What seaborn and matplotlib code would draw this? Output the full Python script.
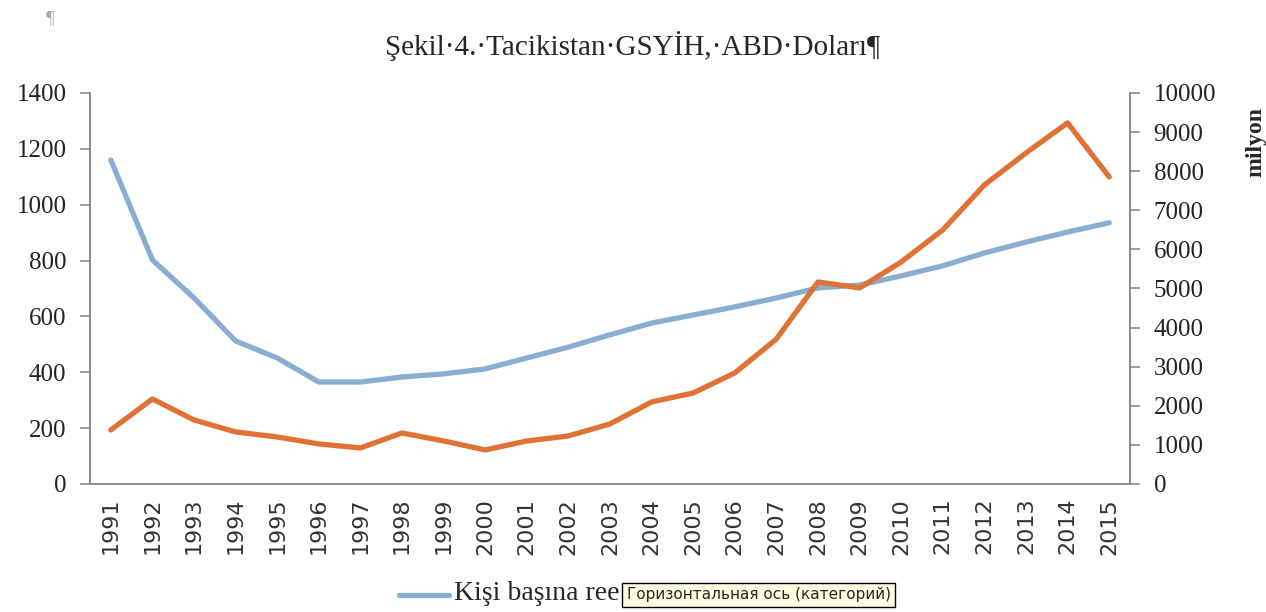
import matplotlib
matplotlib.use("Agg")
import matplotlib.pyplot as plt
import numpy as np
import pandas as pd
import seaborn as sns

# values
years = list(range(1991, 2016))
per_capita = [1160, 802, 666, 512, 451, 365, 365, 383, 394, 412, 451, 490, 534,
              576, 605, 634, 666, 702, 712, 745, 781, 827, 866, 902, 935]
gdp_million = [1381, 2174, 1637, 1330, 1202, 1023, 921, 1304, 1100, 870, 1100,
               1228, 1535, 2097, 2327, 2839, 3708, 5166, 5013, 5678, 6496, 7647,
               8465, 9233, 7852]

title = "Şekil·4.·Tacikistan·GSYİH,·ABD·Doları¶"
legend_text = "Kişi başına ree"
tooltip_text = "Горизонтальная ось (категорий)"

df = pd.DataFrame({"year": years, "per_capita": per_capita, "gdp": gdp_million})

sns.set_style("white")
plt.rcParams["font.family"] = ["Liberation Serif", "DejaVu Serif"]

blue = "#8AAED3"
orange = "#E07235"
axis_gray = "#8c8c8c"

fig = plt.figure(figsize=(12.66, 6.12), dpi=100)
ax = fig.add_axes([0.0711, 0.2092, 0.8215, 0.639])
ax2 = ax.twinx()

sns.lineplot(data=df, x="year", y="per_capita", ax=ax, color=blue, linewidth=3.8,
             legend=False)
sns.lineplot(data=df, x="year", y="gdp", ax=ax2, color=orange, linewidth=3.8,
             legend=False)

ax.set_xlim(years[0] - 0.5, years[-1] + 0.5)
ax.set_ylim(0, 1400)
ax2.set_ylim(0, 10000)
ax.set_yticks(np.arange(0, 1401, 200))
ax2.set_yticks(np.arange(0, 10001, 1000))

ax.set_xticks(years)
ax.set_xticklabels([str(y) for y in years], rotation=90, fontsize=16,
                   fontfamily="DejaVu Sans", color="#333333")
ax.set_xticks(np.arange(years[0] - 0.5, years[-1] + 1.0, 1.0), minor=True)
ax.tick_params(axis="x", which="major", length=0, pad=10)
ax.tick_params(axis="x", which="minor", length=7, color=axis_gray, width=1.2,
               direction="out")
ax.tick_params(axis="y", length=7, color=axis_gray, width=1.2, labelsize=18,
               labelcolor="#222222", pad=10)
ax2.tick_params(axis="y", length=7, color=axis_gray, width=1.2, labelsize=18,
                labelcolor="#222222", pad=10)

ax.set_xlabel("")
ax.set_ylabel("")
ax2.set_xlabel("")
ax2.set_ylabel("milyon", fontsize=17, fontweight="bold")
ax2.yaxis.set_label_coords(1.111, 0.875)

for a in (ax, ax2):
    a.spines["top"].set_visible(False)
    for s in ("left", "right", "bottom"):
        a.spines[s].set_color(axis_gray)
        a.spines[s].set_linewidth(1.2)

fig.text(0.5, 0.925, title, ha="center", va="center", fontsize=21)
fig.text(0.04, 0.97, "¶", ha="center", va="center", fontsize=14, color="#aaaaaa")

# bottom legend (partly hidden by a tooltip in the reference)
fig.lines.append(plt.Line2D([0.315, 0.355], [0.028, 0.028], transform=fig.transFigure,
                            color=blue, linewidth=3.8))
fig.text(0.359, 0.03, legend_text, ha="left", va="center", fontsize=20)
fig.text(0.495, 0.028, tooltip_text, ha="left", va="center", fontsize=11,
         fontfamily="DejaVu Sans",
         bbox=dict(boxstyle="square,pad=0.3", facecolor="#FFFFE1", edgecolor="black",
                   linewidth=1.0))

fig.savefig("out.png", dpi=100)
